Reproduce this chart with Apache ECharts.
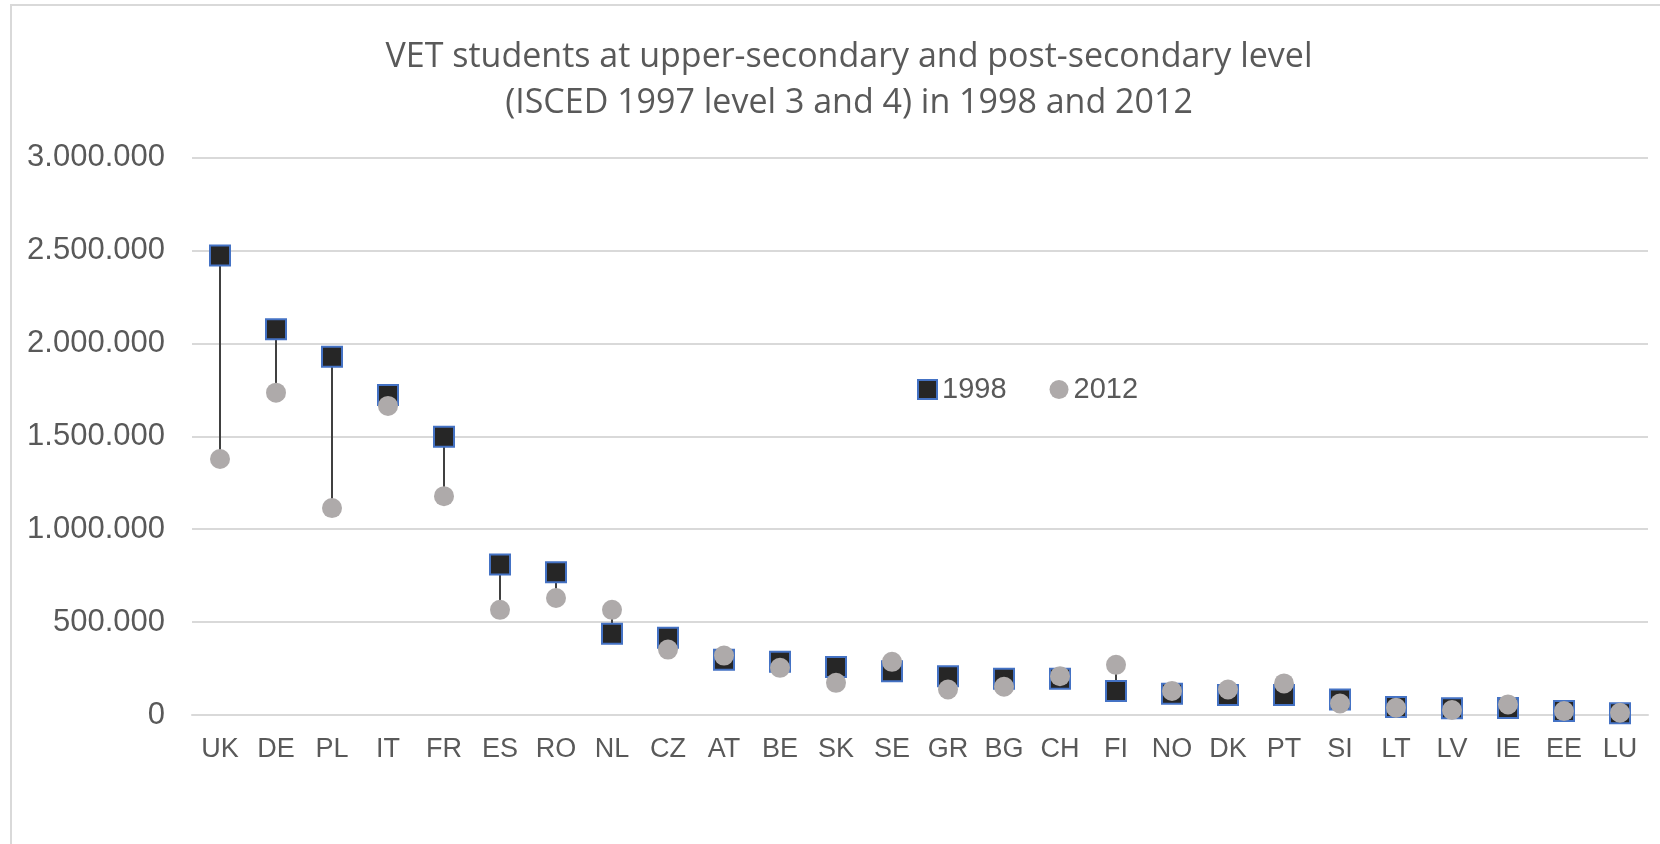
<!DOCTYPE html>
<html>
<head>
<meta charset="utf-8">
<title>VET students 1998 / 2012</title>
<script src="https://cdn.jsdelivr.net/npm/echarts@6/dist/echarts.min.js"></script>
<style>
  html, body { margin: 0; padding: 0; background: #fff; }
  #chart { width: 1660px; height: 844px; }
</style>
</head>
<body>
<div id="chart"></div>
<script>
// countries, sorted by 1998 value
var categories = ['UK', 'DE', 'PL', 'IT', 'FR', 'ES', 'RO', 'NL', 'CZ', 'AT', 'BE', 'SK', 'SE',
  'GR', 'BG', 'CH', 'FI', 'NO', 'DK', 'PT', 'SI', 'LT', 'LV', 'IE', 'EE', 'LU'];
var students1998 = [2473000, 2077000, 1928000, 1723000, 1498000, 810000, 768000, 438000, 416000,
  298000, 286000, 259000, 236000, 209000, 195000, 195000, 129000, 114000, 107000, 107000,
  84000, 43000, 36000, 38000, 22000, 10000];
var students2012 = [1378000, 1735000, 1114000, 1664000, 1178000, 566000, 630000, 566000, 352000,
  320000, 254000, 173000, 286000, 137000, 152000, 209000, 270000, 129000, 137000, 170000,
  62000, 39000, 27000, 57000, 21000, 12000];
var yTicks = [0, 500000, 1000000, 1500000, 2000000, 2500000, 3000000];

var textColor = '#595959';
var gridColor = '#d9d9d9';

// one row per country for the hi-lo lines
var hiLo = categories.map(function (c, i) {
  return [i, students1998[i], students2012[i]];
});

function dotted(v) {
  return String(v).replace(/\B(?=(\d{3})+(?!\d))/g, '.');
}

var myChart = echarts.init(document.getElementById('chart'));

var option = {
  animation: false,
  title: {
    text: 'VET students at upper-secondary and post-secondary level\n(ISCED 1997 level 3 and 4) in 1998 and 2012',
    left: 844,
    top: 29,
    textAlign: 'center',
    textStyle: {
      fontFamily: 'Open Sans',
      fontWeight: 'normal',
      fontSize: 34,
      lineHeight: 46,
      color: textColor
    }
  },
  graphic: [{
    type: 'rect',
    shape: { x: 11, y: 5, width: 1700, height: 900 },
    style: { fill: 'none', stroke: gridColor, lineWidth: 2 },
    silent: true
  }],
  legend: {
    left: 912,
    top: 370,
    itemWidth: 19,
    itemHeight: 19,
    itemGap: 43,
    textStyle: { fontFamily: 'Arial, Liberation Sans', fontSize: 29, color: textColor },
    data: [{ name: '1998', icon: 'rect' }, { name: '2012', icon: 'circle' }]
  },
  grid: { left: 192, right: 12, top: 157.7, bottom: 129 },
  xAxis: {
    type: 'category',
    data: categories,
    axisLine: { lineStyle: { color: gridColor, width: 2 } },
    axisTick: { show: false },
    axisLabel: { fontFamily: 'Arial, Liberation Sans', fontSize: 27, color: textColor, margin: 21 }
  },
  yAxis: {
    type: 'value',
    min: yTicks[0],
    max: yTicks[yTicks.length - 1],
    interval: yTicks[1] - yTicks[0],
    axisLine: { show: false },
    axisTick: { show: false },
    splitLine: { lineStyle: { color: gridColor, width: 2 } },
    axisLabel: {
      fontFamily: 'Arial, Liberation Sans',
      fontSize: 31,
      color: textColor,
      margin: 27,
      formatter: dotted
    }
  },
  series: [
    {
      type: 'custom',
      name: 'hilo',
      z: 1,
      renderItem: function (params, api) {
        var a = api.coord([api.value(0), api.value(1)]);
        var b = api.coord([api.value(0), api.value(2)]);
        return {
          type: 'line',
          shape: { x1: a[0], y1: a[1], x2: b[0], y2: b[1] },
          style: { stroke: '#404040', lineWidth: 2 }
        };
      },
      encode: { x: 0, y: [1, 2] },
      data: hiLo
    },
    {
      type: 'scatter',
      name: '1998',
      z: 2,
      symbol: 'rect',
      symbolSize: 20,
      itemStyle: { color: '#262626', borderColor: '#4472C4', borderWidth: 2, opacity: 1 },
      data: students1998
    },
    {
      type: 'scatter',
      name: '2012',
      z: 3,
      symbol: 'circle',
      symbolSize: 20,
      itemStyle: { color: '#AEAAAA', opacity: 1 },
      data: students2012
    }
  ]
};

myChart.setOption(option);
window.addEventListener('resize', myChart.resize);
</script>
</body>
</html>
